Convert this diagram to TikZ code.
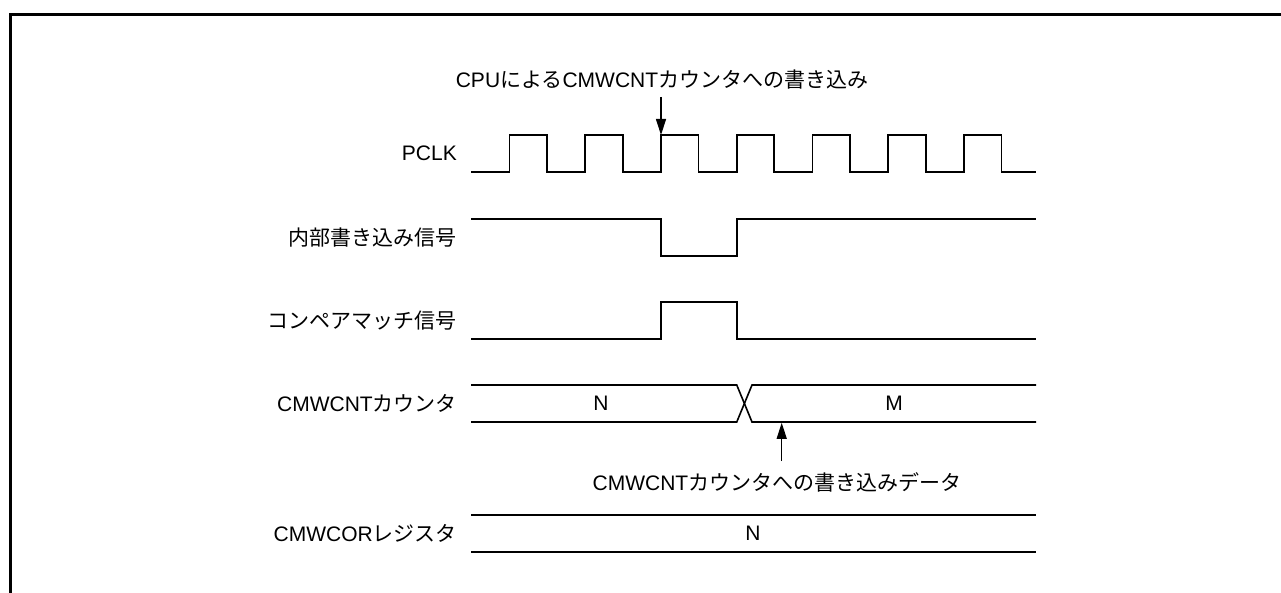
\documentclass[tikz,border=0pt]{standalone}
\usepackage{fontspec}
\setmainfont{Liberation Sans}
\newfontfamily\cjk{Noto Sans CJK JP}
\newcommand{\J}[1]{{\cjk #1}}
\usetikzlibrary{arrows.meta}
\begin{document}
\begin{tikzpicture}[x=1pt,y=-1pt,
  lbl/.style={inner sep=0pt,font=\fontsize{21}{25}\selectfont},
  sig/.style={line width=1.6pt,line join=miter},
  frame/.style={line width=3pt},
  arr/.style={line width=1.2pt,-{Triangle[length=16pt,width=10pt]}}]
\useasboundingbox (0,0) rectangle (1281,593);
% frame
\draw[frame] (10.5,593) -- (10.5,14.5) -- (1281,14.5);
% labels
\node[lbl,anchor=east] (lpclk) at (457,153.5) {PCLK};
\node[lbl,anchor=east] (lint) at (457,237.5) {\J{内部書き込み信号}};
\node[lbl,anchor=east] (lcmp) at (457,320.5) {\J{コンペアマッチ信号}};
\node[lbl,anchor=east] (lcnt) at (457,403.5) {CMWCNT\J{カウンタ}};
\node[lbl,anchor=east] (lcor) at (457,533) {CMWCOR\J{レジスタ}};
% PCLK
\draw[sig] (471,172)
  -- (509.5,172) -- (509.5,135) -- (547,135) -- (547,172)
  -- (585.25,172) -- (585.25,135) -- (622.75,135) -- (622.75,172)
  -- (661,172) -- (661,135) -- (698.5,135) -- (698.5,172)
  -- (736.75,172) -- (736.75,135) -- (774.25,135) -- (774.25,172)
  -- (812.5,172) -- (812.5,135) -- (850,135) -- (850,172)
  -- (888.25,172) -- (888.25,135) -- (925.75,135) -- (925.75,172)
  -- (964,172) -- (964,135) -- (1001.5,135) -- (1001.5,172)
  -- (1036,172);
% internal write
\draw[sig] (471,219) -- (661,219) -- (661,256) -- (736.75,256) -- (736.75,219) -- (1036,219);
% compare match
\draw[sig] (471,339) -- (661,339) -- (661,302) -- (736.75,302) -- (736.75,339) -- (1036,339);
% CMWCNT bus
\draw[sig] (471,385) -- (736.75,385) -- (752,422) -- (1036,422);
\draw[sig] (471,422) -- (736.75,422) -- (752,385) -- (1036,385);
\node[lbl] (vn) at (601,403.5) {N};
\node[lbl] (vm) at (894,403.5) {M};
% CMWCOR
\draw[sig] (471,515) -- (1036,515);
\draw[sig] (471,552) -- (1036,552);
\node[lbl] (vcor) at (753,533.5) {N};
% annotations
\node[lbl] (cpu) at (662,80) {CPU\J{による}CMWCNT\J{カウンタへの書き込み}};
\coordinate (a1s) at (661,97);
\coordinate (a1e) at (661,135);
\draw[arr] (a1s) -- (a1e);
\node[lbl] (wdat) at (777,482) {CMWCNT\J{カウンタへの書き込みデータ}};
\coordinate (a2s) at (781.7,461);
\coordinate (a2e) at (781.7,422.8);
\draw[arr] (a2s) -- (a2e);
\end{tikzpicture}
\end{document}
